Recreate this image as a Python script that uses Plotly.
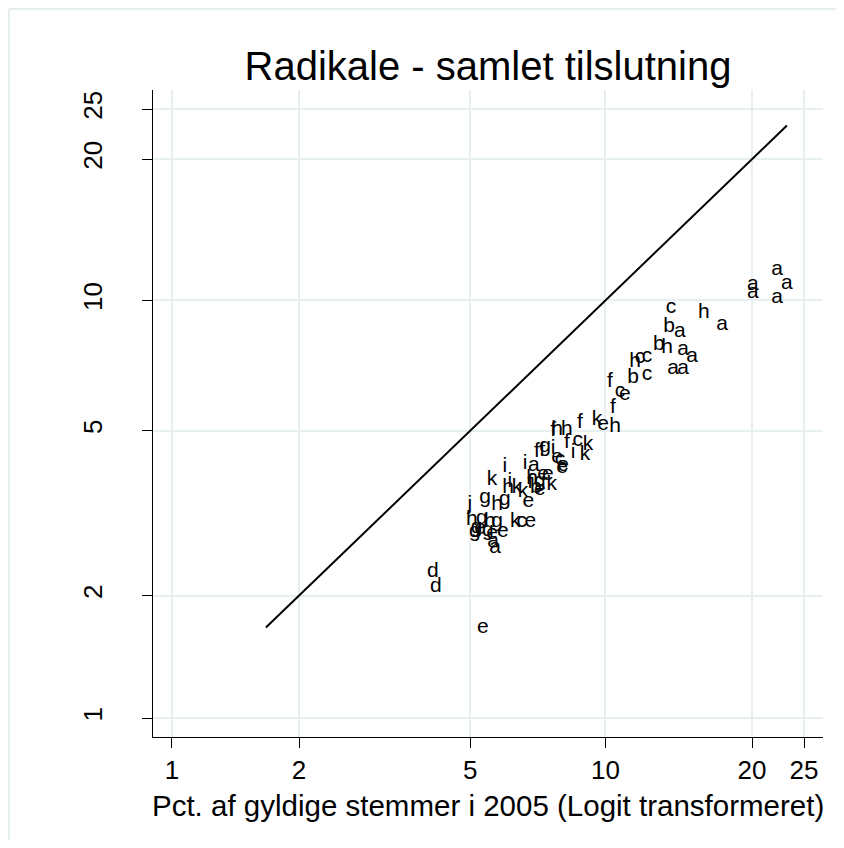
import numpy as np
import plotly.graph_objects as go

# ---- data (percent of valid votes) ----
letters = ["a", "a", "a", "a", "a", "c", "h", "b", "a", "a",
           "b", "h", "a", "a", "h", "c", "c", "a", "a", "b",
           "c", "f", "c", "e", "f", "k", "e", "h",
           "f", "h", "h", "f", "f", "c", "k", "i", "k", "g",
           "i", "f", "f", "e", "c", "e", "e", "i", "i", "a",
           "e", "e", "k", "h", "i", "k", "k", "h", "f", "b",
           "g", "k", "e", "e", "g", "h", "g", "j", "h", "g",
           "h", "g", "k", "c", "e", "g", "e", "g", "g", "e",
           "e", "a", "a", "d", "d", "e"]
x_pct = [22.31, 23.27, 20.08, 20.08, 22.31, 13.77, 16.08, 13.64, 14.37, 17.48,
         13.00, 13.52, 14.58, 15.21, 11.58, 11.86, 12.27, 13.91, 14.58, 11.47,
         12.27, 10.23, 10.75, 11.01, 10.38, 9.59, 9.88, 10.49,
         8.80, 8.24, 7.84, 7.68, 8.24, 8.71, 9.17, 8.50, 9.03, 7.37,
         7.68, 7.07, 7.26, 7.84, 7.96, 8.08, 8.04, 5.99, 6.65, 6.96,
         7.30, 7.48, 5.60, 6.09, 6.15, 6.38, 6.58, 6.90, 6.83, 7.03,
         7.18, 7.63, 7.18, 6.76, 5.40, 5.75, 5.99, 4.99, 5.04, 5.31,
         5.54, 5.75, 6.32, 6.54, 6.83, 5.17, 5.26, 5.12, 5.48, 5.60,
         5.93, 5.63, 5.69, 4.10, 4.17, 5.34]
y_pct = [11.68, 10.87, 10.82, 10.38, 10.12, 9.61, 9.36, 8.70, 8.48, 8.80,
         7.92, 7.79, 7.71, 7.43, 7.24, 7.39, 7.43, 7.00, 7.00, 6.64,
         6.75, 6.50, 6.16, 6.06, 5.65, 5.29, 5.15, 5.10,
         5.21, 5.01, 5.01, 4.99, 4.67, 4.72, 4.62, 4.42, 4.37, 4.57,
         4.52, 4.45, 4.47, 4.32, 4.26, 4.13, 4.07, 4.10, 4.16, 4.12,
         3.93, 3.93, 3.81, 3.66, 3.77, 3.66, 3.58, 3.83, 3.75, 3.66,
         3.77, 3.71, 3.62, 3.38, 3.45, 3.32, 3.42, 3.32, 3.05, 3.08,
         3.02, 3.02, 3.02, 3.03, 3.02, 2.92, 2.91, 2.86, 2.87, 2.83,
         2.86, 2.70, 2.62, 2.28, 2.10, 1.67]

tick_pct = [1, 2, 5, 10, 20, 25]
tick_labels = ["1", "2", "5", "10", "20", "25"]

title_text = "Radikale - samlet tilslutning"
x_title = "Pct. af gyldige stemmer i 2005 (Logit transformeret)"


def logit(p):
    p = np.asarray(p, dtype=float) / 100.0
    return np.log(p / (1.0 - p))


lo = min(min(x_pct), min(y_pct))
hi = max(max(x_pct), max(y_pct))
line_pct = [lo, hi]

FONT = "Liberation Sans, Arial, Helvetica, sans-serif"
GRID = "#e8eff1"
FRAME = "#e6eef0"

fig = go.Figure()
fig.add_trace(go.Scatter(
    x=logit(line_pct), y=logit(line_pct), mode="lines",
    line=dict(color="black", width=2), showlegend=False, hoverinfo="skip"))
fig.add_trace(go.Scatter(
    x=logit(x_pct), y=logit(y_pct), mode="text", text=letters,
    textposition="middle center",
    textfont=dict(family=FONT, size=21, color="black"),
    showlegend=False))

# page has an 8px body margin; size the figure so the page does not scroll
W, H = 828, 832
L, R, T, B = 145, 13, 82, 103
pw, ph = W - L - R, H - T - B
plot_bottom = H - B

fx0 = (1 - L) / pw
fx1 = (W - L) / pw
fy_top = (plot_bottom - 1) / ph
fy_bot = -B / ph

fig.update_layout(
    width=W, height=H,
    margin=dict(l=L, r=R, t=T, b=B, pad=0),
    paper_bgcolor="white", plot_bgcolor="white",
    font=dict(family=FONT, color="black"),
    title=dict(text=title_text, x=0.5, xref="paper", xanchor="center",
               y=1 - 58 / H, yref="container", yanchor="middle",
               font=dict(size=40, family=FONT, color="black")),
    xaxis=dict(range=[-4.70, -0.9935], tickvals=logit(tick_pct), ticktext=tick_labels,
               showgrid=True, gridcolor=GRID, gridwidth=2, zeroline=False,
               showline=True, linecolor="black", linewidth=1,
               ticks="outside", ticklen=10, tickwidth=1, tickcolor="black",
               tickfont=dict(size=26, family=FONT, color="black")),
    yaxis=dict(range=[-4.704, -0.989], tickvals=logit(tick_pct), ticktext=tick_labels,
               showgrid=True, gridcolor=GRID, gridwidth=2, zeroline=False,
               showline=True, linecolor="black", linewidth=1,
               ticks="outside", ticklen=10, tickwidth=1, tickcolor="black",
               tickangle=-90, ticklabelstandoff=30,
               tickfont=dict(size=26, family=FONT, color="black")),
    annotations=[dict(text=x_title, xref="paper", yref="paper",
                      x=0.5, y=-(797 - plot_bottom) / ph, xanchor="center", yanchor="middle",
                      showarrow=False, font=dict(size=29.5, family=FONT, color="black"))],
    shapes=[
        dict(type="line", xref="paper", yref="paper", x0=fx0, x1=fx1, y0=fy_top, y1=fy_top,
             line=dict(color=FRAME, width=2), layer="below"),
        dict(type="line", xref="paper", yref="paper", x0=fx0, x1=fx0, y0=fy_bot, y1=fy_top,
             line=dict(color=FRAME, width=2), layer="below"),
    ],
)

fig.write_html("out.html")
